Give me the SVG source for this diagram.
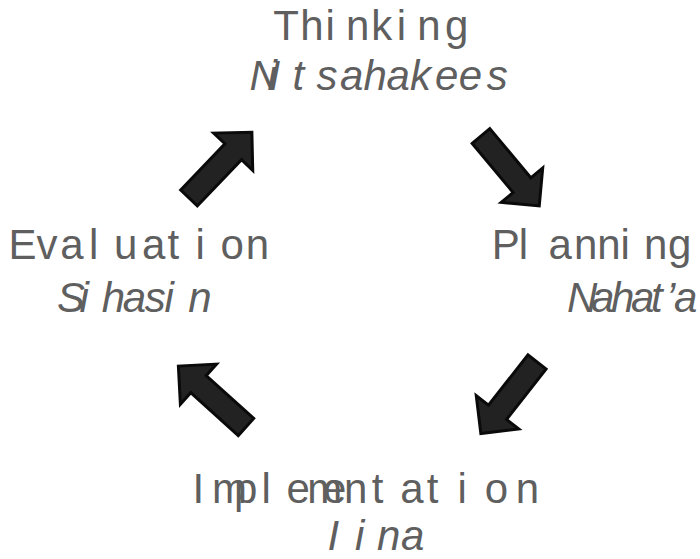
<svg xmlns="http://www.w3.org/2000/svg" width="700" height="559" viewBox="0 0 700 559">
<style>
.t{font-family:"Liberation Sans",Arial,sans-serif;font-size:42px;fill:#5f5f5f}
.i{font-style:italic}
.arr{fill:#222;stroke:#0a0a0a;stroke-width:3;stroke-linejoin:miter}
</style>
<defs>
<path id="arrow" d="M0,-11.5 H64 V-27 L91,0 L64,27 V11.5 H0 Z"/>
</defs>
<rect width="700" height="559" fill="#fff"/>
<g id="thinking">
<text class="t" x="273.3 300.3 325.6 346 371.3 396.7 417.2 445" y="40">Thinking</text>
<text class="t i" x="249.5 267.6 292.5 316.6 340.1 363.4 386.6 409.9 435 458.8 486.8" y="90">Nitsahakees</text>
</g>
<g id="planning">
<text class="t" x="491.7 518.8 548.4 573.9 597.2 620.5 643.9 667.9" y="259">Planning</text>
<text class="t i" x="567 591 611 631 651 666 674" y="312">Nahat’a</text>
</g>
<g id="implementation">
<text class="t" x="192.5 212 234 261.4 286.4 307.3 323.1 344 371.8 400.3 426.8 457.6 484.8 515.8" y="503">Implementation</text>
<text class="t i" x="327.5 355 377 401" y="550">Iina</text>
</g>
<g id="evaluation">
<text class="t" x="8.5 36.4 60.3 89 114.1 141.9 167.6 195.6 220.4 245.7" y="259">Evaluation</text>
<text class="t i" x="57 79.5 101.7 122.8 144.8 164.5 188.3" y="312">Sihasin</text>
</g>
<g id="connectors">
<use href="#arrow" class="arr" transform="translate(189,198) rotate(-46.3)"/>
<use href="#arrow" class="arr" transform="translate(481,136) rotate(50.2)"/>
<use href="#arrow" class="arr" transform="translate(537,362) rotate(128.1)"/>
<use href="#arrow" class="arr" transform="translate(246,427) rotate(-138)"/>
</g>
</svg>
